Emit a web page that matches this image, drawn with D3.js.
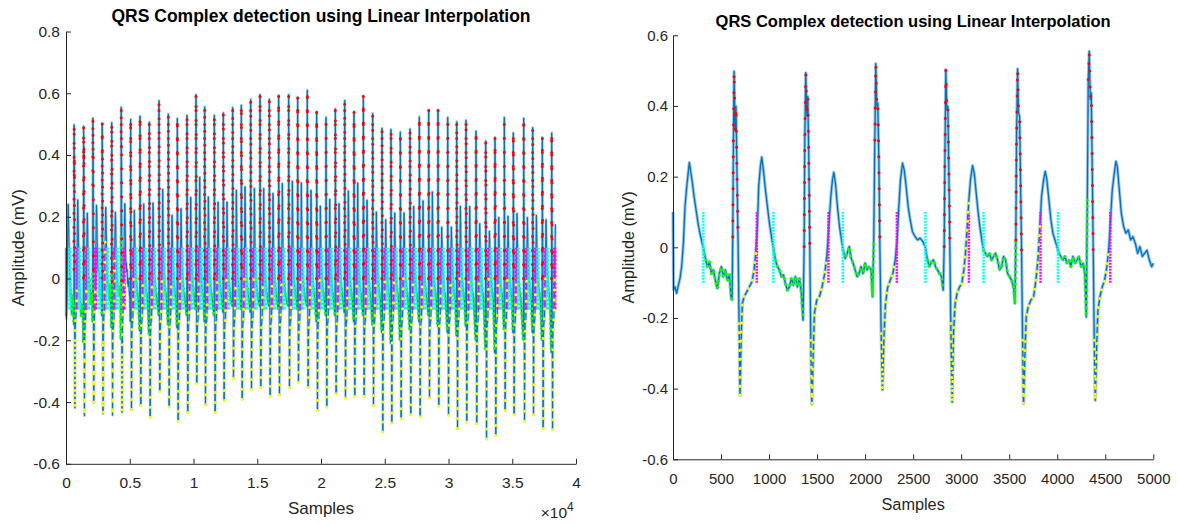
<!DOCTYPE html>
<html>
<head>
<meta charset="utf-8">
<script src="https://cdn.jsdelivr.net/npm/d3@7"></script>
<style>
  body { margin: 0; background: #fff; }
</style>
</head>
<body>
<svg id="chart" width="1178" height="525"></svg>
<script>
// ---- data ----
// first 5000 samples (right panel, also the start of the left one): [sample, mV]
var ecgStart = [
  [0,0.10],[6,-0.12],[21,-0.112],[38,-0.130],[56,-0.107],[73,-0.088],[90,-0.055],[108,0.011],[125,0.115],[143,0.172],[160,0.215],[170,0.240],[184,0.215],[202,0.182],[219,0.144],[240,0.106],[264,0.063],[288,0.030],[316,-0.003],
  [333,-0.026],[358,-0.055],[379,-0.041],[400,-0.074],[420,-0.064],[441,-0.093],[462,-0.116],[483,-0.074],[504,-0.055],[525,-0.083],[545,-0.064],[566,-0.093],[587,-0.078],[604,-0.140],[615,-0.149],
  [622,0.030],[629,0.304],[636,0.498],[646,0.333],[656,0.399],[667,0.191],[677,0.021],[688,-0.216],[698,-0.419],[709,-0.263],[722,-0.159],[740,-0.140],[768,-0.126],[795,-0.112],[823,-0.097],[844,-0.064],[861,-0.017],[879,0.059],[892,0.172],[910,0.229],[924,0.255],[941,0.219],[962,0.163],[983,0.115],[1004,0.068],[1025,0.030],[1045,-0.003],
  [1066,-0.036],[1087,-0.055],[1108,-0.064],[1129,-0.083],[1150,-0.078],[1170,-0.102],[1191,-0.121],[1212,-0.112],[1233,-0.088],[1254,-0.107],[1274,-0.083],[1295,-0.112],[1316,-0.088],[1337,-0.130],[1354,-0.206],
  [1365,0.002],[1372,0.304],[1382,0.494],[1393,0.371],[1403,0.427],[1413,0.267],[1424,0.002],[1434,-0.263],[1445,-0.444],[1459,-0.310],[1472,-0.187],[1497,-0.149],[1524,-0.140],[1552,-0.112],[1580,-0.074],[1601,-0.026],[1622,0.059],[1643,0.144],[1660,0.191],[1674,0.212],[1691,0.182],[1712,0.115],[1733,0.059],[1754,0.021],[1771,-0.008],
  [1792,-0.031],[1813,-0.017],[1834,0.002],[1854,-0.031],[1875,-0.045],[1896,-0.064],[1917,-0.083],[1938,-0.074],[1958,-0.055],[1979,-0.074],[2000,-0.045],[2021,-0.064],[2042,-0.055],[2063,-0.064],[2077,-0.140],
  [2090,0.021],[2101,0.304],[2111,0.520],[2122,0.399],[2132,0.408],[2143,0.248],[2153,0.011],[2167,-0.244],[2181,-0.403],[2195,-0.263],[2212,-0.159],[2233,-0.116],[2261,-0.093],[2289,-0.074],[2313,-0.036],[2334,0.021],[2351,0.115],[2368,0.191],[2389,0.238],[2407,0.219],[2427,0.172],[2448,0.115],[2469,0.078],[2493,0.044],[2521,0.030],[2545,0.021],[2573,0.026],[2601,0.016],[2625,0.002],
  [2649,-0.036],[2670,-0.055],[2691,-0.041],[2712,-0.036],[2733,-0.055],[2753,-0.064],[2774,-0.074],[2795,-0.083],[2813,-0.121],
  [2823,0.002],[2830,0.229],[2840,0.503],[2851,0.390],[2861,0.399],[2872,0.210],[2882,0.002],[2892,-0.216],[2906,-0.438],[2920,-0.244],[2937,-0.159],[2958,-0.130],[2983,-0.112],[3007,-0.102],[3028,-0.064],[3045,-0.017],[3063,0.059],[3080,0.134],[3097,0.191],[3118,0.231],[3136,0.210],[3153,0.163],[3174,0.106],[3194,0.059],[3215,0.021],[3233,-0.008],
  [3253,-0.017],[3274,-0.026],[3295,-0.017],[3316,-0.036],[3337,-0.026],[3358,-0.017],[3379,-0.036],[3399,-0.064],[3420,-0.055],[3441,-0.026],[3462,-0.036],[3483,-0.074],[3504,-0.083],[3524,-0.093],[3545,-0.112],[3559,-0.159],
  [3569,0.021],[3576,0.304],[3587,0.505],[3597,0.380],[3608,0.371],[3618,0.191],[3629,-0.017],[3639,-0.263],[3649,-0.443],[3663,-0.310],[3677,-0.197],[3698,-0.168],[3726,-0.149],[3754,-0.140],[3778,-0.093],[3799,-0.036],[3819,0.059],[3837,0.144],[3858,0.191],[3875,0.215],[3892,0.191],[3913,0.134],[3934,0.078],[3955,0.040],[3976,0.021],[3997,0.002],
  [4017,-0.017],[4038,-0.026],[4059,-0.036],[4080,-0.026],[4101,-0.045],[4122,-0.036],[4142,-0.055],[4163,-0.026],[4184,-0.045],[4205,-0.036],[4226,-0.026],[4247,-0.055],[4268,-0.045],[4288,-0.074],[4302,-0.197],
  [4313,0.134],[4323,0.475],[4333,0.555],[4344,0.418],[4354,0.437],[4365,0.210],[4375,-0.017],[4385,-0.263],[4396,-0.433],[4410,-0.282],[4424,-0.178],[4444,-0.140],[4469,-0.112],[4493,-0.093],[4517,-0.055],[4538,0.002],[4556,0.087],[4573,0.163],[4594,0.210],[4611,0.243],[4625,0.229],[4646,0.163],[4667,0.096],[4691,0.059],[4715,0.040],[4740,0.049],[4764,0.021],[4788,0.030],[4813,0.011],[4837,-0.017],[4861,0.002],[4886,-0.026],[4910,-0.017],[4934,-0.008],[4959,-0.036],[4983,-0.055],[5000,-0.045]
];
var rPeaksStart = [636, 1382, 2111, 2840, 3587, 4333];
var magentaStart = [872, 1618, 2330, 3080, 3826, 4552];
var cyanStart = [316, 1045, 1768, 2628, 3233, 4007];

// remaining beats of the whole record (left panel), one value per beat
var beatR = [5072,5804,6536,7294,8026,8732,9490,10196,10876,11633,12339,13072,13752,14485,15216,15947,16678,17463,18169,18926,19659,20392,21124,21857,22588,23320,24053,24784,25490,26222,26980,27712,28445,29176,29937,30643,31373,32157,32918,33647,34378,35083,35898,36603,37357,38094];
var rAmp = [0.516,0.526,0.507,0.576,0.533,0.519,0.529,0.596,0.556,0.529,0.537,0.554,0.562,0.580,0.596,0.581,0.594,0.596,0.587,0.610,0.541,0.522,0.550,0.577,0.541,0.592,0.535,0.487,0.483,0.475,0.485,0.524,0.546,0.546,0.522,0.508,0.513,0.478,0.446,0.457,0.522,0.472,0.520,0.489,0.457,0.472];
var sAmp = [-0.424,-0.411,-0.449,-0.366,-0.416,-0.462,-0.434,-0.341,-0.409,-0.434,-0.395,-0.323,-0.391,-0.359,-0.353,-0.381,-0.376,-0.353,-0.336,-0.353,-0.427,-0.416,-0.373,-0.387,-0.381,-0.381,-0.411,-0.497,-0.468,-0.454,-0.441,-0.448,-0.387,-0.413,-0.443,-0.486,-0.465,-0.470,-0.520,-0.508,-0.427,-0.441,-0.462,-0.441,-0.486,-0.490];
var tAmp = [0.221,0.242,0.245,0.289,0.205,0.227,0.263,0.329,0.265,0.248,0.248,0.286,0.297,0.292,0.292,0.276,0.308,0.316,0.310,0.286,0.235,0.257,0.243,0.284,0.310,0.254,0.216,0.191,0.213,0.213,0.234,0.252,0.281,0.167,0.167,0.234,0.234,0.178,0.154,0.198,0.202,0.211,0.198,0.205,0.191,0.176];
var qAmp = [-0.14,-0.17,-0.18,-0.12,-0.15,-0.16,-0.12,-0.10,-0.14,-0.12,-0.11,-0.09,-0.10,-0.11,-0.09,-0.09,-0.10,-0.09,-0.10,-0.09,-0.14,-0.12,-0.12,-0.11,-0.14,-0.12,-0.15,-0.175,-0.21,-0.20,-0.165,-0.14,-0.12,-0.155,-0.175,-0.185,-0.155,-0.20,-0.23,-0.24,-0.165,-0.175,-0.20,-0.175,-0.20,-0.24];
// common beat outline (offset from R in samples, level in mV or the per-beat value)
var beatShape = [[-28,"q"],[-14,0],[0,"r"],[42,0],[63,"s"],[90,-0.19],[115,-0.15],[170,-0.13],[200,-0.07],[235,0],[290,"t"],[350,0.06],[410,0],[500,-0.04],[600,-0.07]];
var magentaOff = 235, cyanOff = 410, lastSample = 38400;
var bandLo = -0.1, bandHi = 0.1;

var leftXTicks = [0, 0.5, 1, 1.5, 2, 2.5, 3, 3.5, 4];
var leftYTicks = [-0.6, -0.4, -0.2, 0, 0.2, 0.4, 0.6, 0.8];
var rightXTicks = [0, 500, 1000, 1500, 2000, 2500, 3000, 3500, 4000, 4500, 5000];
var rightYTicks = [-0.6, -0.4, -0.2, 0, 0.2, 0.4, 0.6];

var titleText = "QRS Complex detection using Linear Interpolation";
var font = "'Liberation Sans', Arial, Helvetica, sans-serif";

// ---- build the full record ----
var ecgAll = ecgStart.slice();
var magentaAll = magentaStart.slice();
var cyanAll = cyanStart.slice();
beatR.forEach(function (r, i) {
    var vals = { q: qAmp[i], r: rAmp[i], s: sAmp[i], t: tAmp[i] };
    beatShape.forEach(function (p) {
        var s = r + p[0];
        if (s > lastSample) return;
        ecgAll.push([s, typeof p[1] === "string" ? vals[p[1]] : p[1]]);
    });
    if (r + magentaOff <= lastSample) magentaAll.push(r + magentaOff);
    if (r + cyanOff <= lastSample) cyanAll.push(r + cyanOff);
});
var rAll = rPeaksStart.concat(beatR);

var svg = d3.select("#chart");

function drawPanel(p) {
    var x = d3.scaleLinear().domain(p.xDomain).range(p.xRange);
    var y = d3.scaleLinear().domain(p.yDomain).range(p.yRange);
    var g = svg.append("g");
    var line = d3.line()
        .x(function (d) { return x(d[0]); })
        .y(function (d) { return y(d[1]); });

    // the signal
    g.append("path").datum(p.signal)
        .attr("fill", "none").attr("stroke", "#86b8e0").attr("stroke-opacity", 0.8)
        .attr("stroke-width", p.halo).attr("stroke-linejoin", "round")
        .attr("d", line);
    g.append("path").datum(p.signal)
        .attr("fill", "none").attr("stroke", "#0072bd")
        .attr("stroke-width", p.core).attr("stroke-linejoin", "round")
        .attr("d", line);

    // segments of the signal marked with dots
    function slice(a, b) {
        return p.signal.filter(function (d) { return d[0] >= a && d[0] <= b; });
    }
    var red = [], yel = [], grn = [];
    p.rPos.forEach(function (r, i) {
        var prevR = i > 0 ? p.rPos[i - 1] : -Infinity;
        red.push(slice(r - 18, r + 44));
        var m = p.magenta.filter(function (v) { return v > r; })[0];
        if (m !== undefined) yel.push(slice(r + 44, m));
        var c = p.cyan.filter(function (v) { return v < r && v > prevR; }).pop();
        if (c !== undefined) grn.push(slice(c, r - 18));
    });
    function dotted(list, color, gap) {
        g.append("g").selectAll("path")
            .data(list.filter(function (d) { return d.length > 1; }))
            .enter().append("path")
            .attr("fill", "none").attr("stroke", color)
            .attr("stroke-width", p.dot).attr("stroke-linecap", "round")
            .attr("stroke-dasharray", "0 " + gap)
            .attr("d", line);
    }
    dotted(grn, "#00ff00", p.gaps[2]);

    // vertical dotted markers
    function vlines(list, color) {
        g.append("g").selectAll("line")
            .data(list).enter().append("line")
            .attr("x1", function (d) { return x(d); }).attr("x2", function (d) { return x(d); })
            .attr("y1", y(bandLo)).attr("y2", y(bandHi))
            .attr("stroke", color).attr("stroke-width", p.vw)
            .attr("stroke-dasharray", p.vdash);
    }
    vlines(p.magenta, "#ff00ff");
    vlines(p.cyan, "#00ffff");
    dotted(yel, "#ffff00", p.gaps[1]);
    dotted(red, "#ff0000", p.gaps[0]);

    // axes
    var xAxis = g.append("g")
        .attr("transform", "translate(0," + p.yRange[0] + ")")
        .call(d3.axisBottom(x).tickValues(p.xTicks).tickFormat(p.xFmt)
            .tickSizeInner(-5).tickSizeOuter(0).tickPadding(p.xPad));
    var yAxis = g.append("g")
        .attr("transform", "translate(" + p.xRange[0] + ",0)")
        .call(d3.axisLeft(y).tickValues(p.yTicks)
            .tickFormat(function (d) { return d === 0 ? "0" : String(+d.toFixed(1)); })
            .tickSizeInner(-5).tickSizeOuter(0).tickPadding(p.yPad));
    [xAxis, yAxis].forEach(function (a) {
        a.attr("font-family", font).attr("font-size", p.tickFont);
        a.select(".domain").attr("stroke", "#262626");
        a.selectAll(".tick line").attr("stroke", "#262626");
        a.selectAll(".tick text").attr("fill", "#262626");
    });

    var cx = (p.xRange[0] + p.xRange[1]) / 2;
    var cy = (p.yRange[0] + p.yRange[1]) / 2;
    g.append("text").attr("x", cx).attr("y", p.titleY)
        .attr("text-anchor", "middle").attr("font-family", font)
        .attr("font-weight", "bold").attr("font-size", p.titleFont)
        .attr("fill", "#000").text(titleText);
    g.append("text").attr("x", cx).attr("y", p.xLabelY)
        .attr("text-anchor", "middle").attr("font-family", font)
        .attr("font-size", p.labelFont).attr("fill", "#262626").text("Samples");
    g.append("text")
        .attr("transform", "translate(" + p.yLabelX + "," + cy + ") rotate(-90)")
        .attr("text-anchor", "middle").attr("font-family", font)
        .attr("font-size", p.labelFont).attr("fill", "#262626").text("Amplitude (mV)");
    return g;
}

var left = drawPanel({
    signal: ecgAll, rPos: rAll, magenta: magentaAll, cyan: cyanAll,
    xDomain: [0, 40000], xRange: [66, 576],
    yDomain: [-0.6, 0.8], yRange: [463.8, 31.5],
    xTicks: leftXTicks.map(function (t) { return t * 1e4; }),
    xFmt: function (d) { return String(+(d / 1e4).toFixed(1)); },
    yTicks: leftYTicks,
    halo: 2.6, core: 1, dot: 3, gaps: [14, 10, 5], vw: 3.4, vdash: "3 1",
    xPad: 13, yPad: 6, tickFont: 15.5, labelFont: 17, titleFont: 17.5,
    titleY: 21.5, xLabelY: 514, yLabelX: 24
});
// exponent of the left x axis
left.append("text").attr("x", 567).attr("y", 518)
    .attr("text-anchor", "end").attr("font-family", font)
    .attr("font-size", 15.5).attr("fill", "#262626").text("\u00d710");
left.append("text").attr("x", 567).attr("y", 511)
    .attr("font-family", font)
    .attr("font-size", 12).attr("fill", "#262626").text("4");

drawPanel({
    signal: ecgStart, rPos: rPeaksStart, magenta: magentaStart, cyan: cyanStart,
    xDomain: [0, 5000], xRange: [673, 1153.3],
    yDomain: [-0.6, 0.6], yRange: [459.3, 35.3],
    xTicks: rightXTicks,
    xFmt: function (d) { return String(d); },
    yTicks: rightYTicks,
    halo: 3.2, core: 1.3, dot: 3, gaps: [16, 9, 6], vw: 2.5, vdash: "2 1",
    xPad: 14, yPad: 5, tickFont: 15, labelFont: 16.3, titleFont: 16.5,
    titleY: 26.5, xLabelY: 510, yLabelX: 633.5
});
</script>
</body>
</html>
